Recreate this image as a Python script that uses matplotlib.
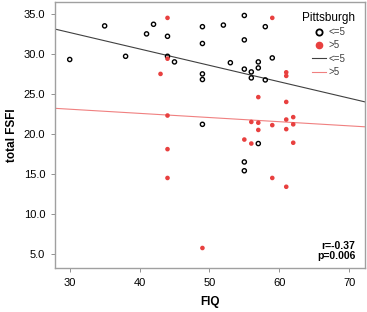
import matplotlib.pyplot as plt
from matplotlib.lines import Line2D
import numpy as np

plt.rcParams['font.family'] = ['Liberation Sans', 'DejaVu Sans']

# FSFI <= 5 group (open black circles)
low_fiq = [30, 35, 38, 41, 42, 44, 44, 45, 49, 49, 49, 49, 49, 52, 53, 55, 55, 55,
           55, 55, 56, 56, 57, 57, 57, 58, 58, 59]
low_fsfi = [29.3, 33.5, 29.7, 32.5, 33.7, 32.2, 29.7, 29.0, 33.4, 31.3, 27.5, 26.8,
            21.2, 33.6, 28.9, 34.8, 31.75, 28.1, 16.5, 15.4, 27.75, 27.0, 29.0, 28.25,
            18.8, 33.4, 26.75, 29.5]

# FSFI > 5 group (filled red dots)
high_fiq = [43, 44, 44, 44, 44, 44, 49, 55, 56, 56, 57, 57, 57, 59, 59, 59, 61, 61,
            61, 61, 61, 61, 62, 62, 62]
high_fsfi = [27.5, 34.5, 29.4, 22.3, 18.1, 14.5, 5.75, 19.3, 21.5, 18.8, 24.6, 21.4,
             20.5, 34.5, 21.1, 14.5, 27.7, 27.25, 24.0, 21.8, 20.6, 13.4, 22.1, 21.2,
             18.9]

# fit lines: (value at FIQ=30, slope)
low_fit = (32.67, -0.205)
high_fit = (23.09, -0.052)

red = '#e8403f'

fig = plt.figure(figsize=(3.67, 3.12), dpi=100)
ax = fig.add_axes([0.150, 0.141, 0.845, 0.853])

xs = np.array([27.9, 72.3])
ax.plot(xs, low_fit[0] + low_fit[1] * (xs - 30), color='#404040', lw=0.8)
ax.plot(xs, high_fit[0] + high_fit[1] * (xs - 30), color='#f08080', lw=0.8)

ax.scatter(low_fiq, low_fsfi, s=9, facecolors='none', edgecolors='black', linewidths=1.0, zorder=3)
ax.scatter(high_fiq, high_fsfi, s=11, color=red, edgecolors='none', zorder=3)

ax.set_xlim(27.9, 72.3)
ax.set_ylim(3.25, 36.5)
ax.set_xticks([30, 40, 50, 60, 70])
ax.set_yticks([5, 10, 15, 20, 25, 30, 35])
ax.set_yticklabels(['%.1f' % v for v in [5, 10, 15, 20, 25, 30, 35]])
ax.tick_params(labelsize=8, length=3, width=0.6, color='#808080', pad=4)
for s in ax.spines.values():
    s.set_color('#a0a0a0')
    s.set_linewidth(1.0)

ax.set_xlabel('FIQ', fontsize=8.5, fontweight='bold', labelpad=6)
ax.set_ylabel('total FSFI', fontsize=8.5, fontweight='bold', labelpad=4)

ax.text(0.968, 0.025, 'r=-0.37\np=0.006', transform=ax.transAxes, ha='right', va='bottom',
        fontsize=7.5, fontweight='bold', linespacing=1.0)

handles = [
    Line2D([], [], ls='none', marker='o', mfc='none', mec='black', mew=1.3, ms=4.5),
    Line2D([], [], ls='none', marker='o', mfc=red, mec=red, ms=4.5),
    Line2D([], [], color='#404040', lw=0.8),
    Line2D([], [], color='#f08080', lw=0.8),
]
leg = ax.legend(handles, ['<=5', '>5', '<=5', '>5'], title='Pittsburgh', loc='upper right',
                frameon=False, fontsize=7, title_fontsize=8.5, handlelength=1.4,
                handletextpad=0.3, labelspacing=0.35, borderaxespad=0.6)
for t in leg.get_texts():
    t.set_color('#404040')

fig.savefig('out.png', dpi=100)
